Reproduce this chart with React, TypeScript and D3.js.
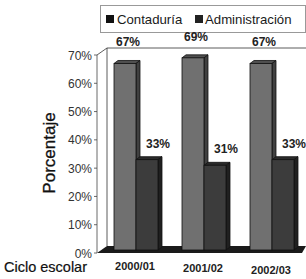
import React from 'react';
import * as d3 from 'd3';

const categories = ["2000/01", "2001/02", "2002/03"];
const contaduria = [0.67, 0.69, 0.67];
const administracion = [0.33, 0.31, 0.33];
const seriesNames = ["Contaduría", "Administración"];
const yTicks = [0, 0.1, 0.2, 0.3, 0.4, 0.5, 0.6, 0.7];

const W = 306;
const H = 279;
const font = "'Liberation Sans', Arial, sans-serif";

// 3d depth offset
const dx = 10;
const dy = -7;

const Bar: React.FC<{ x: number; y: number; w: number; y0: number; fill: string; top: string; side: string }> = ({ x, y, w, y0, fill, top, side }) => {
    const d = 4, e = -3;
    return (
        <g stroke="#111" strokeWidth={0.8}>
            <polygon points={`${x},${y} ${x + d},${y + e} ${x + w + d},${y + e} ${x + w},${y}`} fill={top} />
            <polygon points={`${x + w},${y} ${x + w + d},${y + e} ${x + w + d},${y0 + e} ${x + w},${y0}`} fill={side} />
            <rect x={x} y={y} width={w} height={y0 - y} fill={fill} />
        </g>
    );
};

export default function App() {
    const y = d3.scaleLinear().domain([0, 0.7]).range([253, 55]);
    const x = d3.scaleBand<string>().domain(categories).range([101, 305]);
    const axisX = 97;
    const barW = 22;

    return (
        <svg width={W} height={H} style={{ position: 'absolute', left: 0, top: 0, background: '#fff' }}>
            {/* legend */}
            <rect x={100.5} y={5.5} width={205} height={27} fill="#fff" stroke="#999" />
            <rect x={106} y={15} width={8} height={8} fill="#111" />
            <text x={117} y={24} fontFamily={font} fontSize={13.2} fill="#1a1a1a">{seriesNames[0]}</text>
            <rect x={195} y={15} width={8} height={8} fill="#222" />
            <text x={205} y={24} fontFamily={font} fontSize={13.2} fill="#1a1a1a">{seriesNames[1]}</text>

            {/* walls */}
            <line x1={axisX + dx} y1={y(0.7) + dy} x2={306} y2={y(0.7) + dy} stroke="#333" strokeWidth={0.8} />
            <line x1={axisX + dx} y1={y(0.7) + dy} x2={axisX + dx} y2={y(0) + dy} stroke="#333" strokeWidth={0.8} />
            <line x1={axisX} y1={y(0.7)} x2={axisX + dx} y2={y(0.7) + dy} stroke="#333" strokeWidth={0.8} />
            <polygon points={`${axisX},${y(0)} ${axisX + dx},${y(0) + dy} 306,${y(0) + dy} 302,${y(0)}`} fill="#1a1a1a" />

            {/* y axis */}
            <line x1={axisX} y1={y(0)} x2={axisX} y2={y(0.7)} stroke="#444" strokeWidth={0.8} />
            {yTicks.map(t => (
                <g key={t}>
                    <line x1={axisX - 3} x2={axisX} y1={y(t)} y2={y(t)} stroke="#444" strokeWidth={0.8} />
                    <text x={axisX - 5} y={y(t) + 4.5} textAnchor="end" fontFamily={font} fontSize={12} fill="#333">{Math.round(t * 100)}%</text>
                </g>
            ))}
            <text transform={`translate(55,153) rotate(-90)`} textAnchor="middle" fontFamily={font} fontSize={17} fill="#111" stroke="#111" strokeWidth={0.3}>Porcentaje</text>

            {/* bars */}
            {categories.map((c, i) => {
                const cx = x(c)! + x.bandwidth() / 2;
                return (
                    <g key={c}>
                        <Bar x={cx - 21} y={y(contaduria[i])} w={barW} y0={y(0) - 3} fill="#707070" top="#505050" side="#404040" />
                        <Bar x={cx + 1} y={y(administracion[i])} w={barW} y0={y(0) - 3} fill="#3c3c3c" top="#2a2a2a" side="#202020" />
                        <text x={cx - 7} y={y(contaduria[i]) - 17} textAnchor="middle" fontFamily={font} fontSize={12} fontWeight="bold" fill="#222">{Math.round(contaduria[i] * 100)}%</text>
                        <text x={cx + 23} y={y(administracion[i]) - 12} textAnchor="middle" fontFamily={font} fontSize={12} fontWeight="bold" fill="#222">{Math.round(administracion[i] * 100)}%</text>
                        <text x={cx} y={270 + i * 2} textAnchor="middle" fontFamily={font} fontSize={11} fontWeight="bold" fill="#222">{c}</text>
                    </g>
                );
            })}
            <text x={4} y={272} fontFamily={font} fontSize={14.5} fill="#111" stroke="#111" strokeWidth={0.2}>Ciclo escolar</text>
        </svg>
    );
}
